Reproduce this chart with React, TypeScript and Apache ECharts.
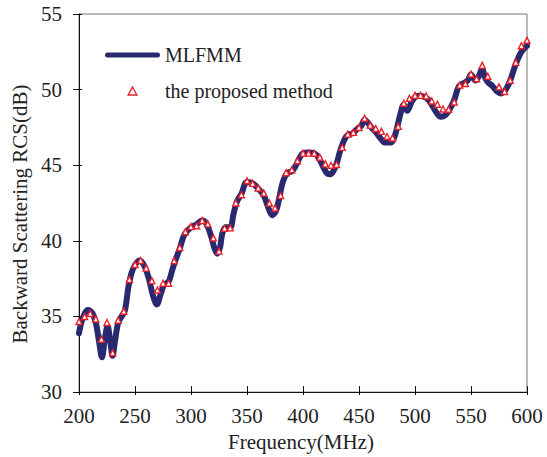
import React, { useEffect, useRef } from "react";
import * as echarts from "echarts";

// MLFMM curve: frequency (MHz) and RCS (dB)
const curveFreq = [
  200, 203, 208, 212, 215, 218, 220.5, 223, 225.5, 228, 230, 232, 235, 238, 241, 244, 247, 250, 254, 258,
  262, 266, 269.5, 273, 276, 280, 283, 286, 290, 294, 300, 305, 310, 314, 318, 321, 323.5, 326, 328, 331,
  335, 338, 341, 345, 350, 355, 360, 365, 369, 372.5, 376, 379, 382, 386, 390, 393, 397, 400, 405, 410,
  414, 418, 421, 424, 427, 430, 433, 437, 440, 444, 447, 450, 452, 455, 458, 461, 465, 469, 473, 477,
  480, 483, 487, 490, 493, 497, 500, 503, 507, 511, 515, 519, 523, 527, 531, 535, 539, 543, 547, 550,
  554, 557, 560, 562, 565, 569, 573, 577, 581, 585, 590, 595, 600,
];
const curveRcs = [
  33.9, 34.8, 35.43, 35.2, 34.6, 33.3, 32.3, 33.5, 34.35, 33.3, 32.4, 33.3, 34.6, 35.0, 35.4, 36.9, 37.9, 38.4, 38.7, 38.4,
  37.6, 36.4, 35.8, 36.5, 37.1, 37.3, 38.0, 38.7, 39.5, 40.4, 40.9, 41.1, 41.35, 41.1, 40.3, 39.5, 39.15, 39.6, 40.5, 40.9,
  40.9, 41.8, 42.6, 43.1, 43.9, 43.8, 43.45, 43.0, 42.2, 41.7, 42.0, 42.9, 43.9, 44.5, 44.6, 44.9, 45.5, 45.8, 45.85, 45.8,
  45.5, 44.9, 44.5, 44.4, 44.6, 45.1, 45.9, 46.7, 47.0, 47.1, 47.3, 47.5, 47.6, 48.0, 47.8, 47.5, 47.2, 46.8, 46.5, 46.5,
  46.6, 47.2, 48.4, 49.0, 48.6, 49.2, 49.5, 49.6, 49.55, 49.4, 49.0, 48.5, 48.2, 48.3, 48.7, 49.3, 50.2, 50.4, 50.6, 51.0,
  50.6, 50.9, 51.4, 50.9, 50.5, 50.25, 49.9, 49.75, 50.0, 50.6, 51.7, 52.5, 52.9,
];

// Proposed method samples
const methodFreq = [
  200, 205, 210, 215, 220, 225, 230, 235, 240, 245, 250, 255, 260, 265, 270, 275, 280, 285, 290, 295,
  300, 305, 310, 315, 320, 325, 330, 335, 340, 345, 350, 355, 360, 365, 370, 375, 380, 385, 390, 395,
  400, 405, 410, 415, 420, 425, 430, 435, 440, 445, 450, 455, 460, 465, 470, 475, 480, 485, 490, 495,
  500, 505, 510, 515, 520, 525, 530, 535, 540, 545, 550, 555, 560, 565, 575, 580, 585, 590, 595, 600,
];
const methodRcs = [
  34.67, 35.0, 35.2, 34.83, 33.5, 34.6, 32.6, 34.75, 35.35, 37.45, 38.44, 38.7, 38.2, 37.37, 36.75, 37.2, 37.2, 38.68, 39.56, 40.6,
  40.94, 41.0, 41.35, 41.12, 40.2, 39.32, 40.83, 40.86, 42.5, 43.05, 43.97, 43.8, 43.5, 43.16, 42.5, 42.17, 43.0, 44.5, 44.7, 45.3,
  45.79, 45.8, 45.79, 45.53, 45.09, 45.0, 45.05, 46.18, 47.06, 47.17, 47.5, 48.11, 47.65, 47.43, 47.24, 46.9, 46.8, 47.57, 49.1, 49.43,
  49.62, 49.62, 49.58, 49.25, 49.03, 48.72, 48.7, 49.18, 50.3, 50.4, 51.03, 50.72, 51.6, 50.88, 50.18, 49.88, 50.62, 51.8, 52.9, 53.26,
];

const seriesNames = ["MLFMM", "the proposed method"];
const xTitle = "Frequency(MHz)";
const yTitle = "Backward Scattering RCS(dB)";

const FONT = "Liberation Serif";
const NAVY = "#28296e";
const RED = "#e8202a";

export default function App() {
  const ref = useRef<HTMLDivElement>(null);
  useEffect(() => {
    if (!ref.current) return;
    const chart = echarts.init(ref.current, undefined, { renderer: "svg" });
    const textStyle = { fontFamily: FONT, color: "#222", fontSize: 21 };
    chart.setOption({
      animation: false,
      backgroundColor: "#fff",
      textStyle: { fontFamily: FONT },
      grid: {
        left: 79,
        right: 20,
        top: 14,
        bottom: 63,
        show: true,
        borderColor: "#777",
        borderWidth: 1,
      },
      legend: {
        orient: "vertical",
        left: 100,
        top: 40,
        itemWidth: 55,
        itemHeight: 8,
        itemGap: 16,
        symbolKeepAspect: true,
        textStyle: { ...textStyle, fontSize: 20 },
        data: [
          {
            name: seriesNames[0],
            icon: "path://M2.5,1.5 L52.5,1.5 A2.5,2.5 0 0 1 52.5,6.5 L2.5,6.5 A2.5,2.5 0 0 1 2.5,1.5 Z",
            itemStyle: { color: NAVY, borderWidth: 0 },
          },
          {
            name: seriesNames[1],
            icon: "path://M3,0 L6,5.5 L0,5.5 Z",
            itemStyle: { color: "#ffffff", borderColor: RED, borderWidth: 1.4 },
          },
        ],
      },
      xAxis: [
        {
          type: "value",
          min: 200,
          max: 600,
          interval: 50,
          name: xTitle,
          nameLocation: "middle",
          nameGap: 35,
          nameTextStyle: { ...textStyle, padding: [0, 4, 0, 0] },
          axisLine: { show: true, lineStyle: { color: "#111", width: 1 } },
          axisTick: { show: true, inside: true, length: 6, lineStyle: { color: "#111" } },
          axisLabel: { ...textStyle, margin: 13 },
          splitLine: { show: false },
        },
        {
          type: "value",
          position: "bottom",
          min: 200,
          max: 600,
          interval: 50,
          axisLine: { show: false },
          axisTick: { show: true, inside: false, length: 3, lineStyle: { color: "#111" } },
          axisLabel: { show: false },
          splitLine: { show: false },
        },
      ],
      yAxis: [
        {
          type: "value",
          min: 30,
          max: 55,
          interval: 5,
          name: yTitle,
          nameLocation: "middle",
          nameGap: 46,
          nameTextStyle: { ...textStyle, padding: [0, 22, 0, 0] },
          axisLine: { show: true, lineStyle: { color: "#111", width: 1 } },
          axisTick: { show: true, inside: false, length: 6, lineStyle: { color: "#111" } },
          axisLabel: { ...textStyle, margin: 17 },
          splitLine: { show: false },
        },
        {
          type: "value",
          position: "left",
          min: 30,
          max: 55,
          interval: 5,
          axisLine: { show: false },
          axisTick: { show: true, inside: true, length: 3, lineStyle: { color: "#111" } },
          axisLabel: { show: false },
          splitLine: { show: false },
        },
      ],
      series: [
        {
          name: seriesNames[0],
          type: "line",
          smooth: 0.35,
          showSymbol: false,
          symbol: "none",
          lineStyle: { color: NAVY, width: 6, cap: "round", join: "round" },
          itemStyle: { color: NAVY },
          data: curveFreq.map((f, i) => [f, curveRcs[i]]),
          z: 2,
        },
        {
          name: seriesNames[1],
          type: "scatter",
          symbol: "triangle",
          symbolSize: 6,
          itemStyle: { color: "#ffffff", borderColor: RED, borderWidth: 1.4, opacity: 1 },
          data: methodFreq.map((f, i) => [f, methodRcs[i]]),
          z: 3,
        },
      ],
    });
    return () => chart.dispose();
  }, []);
  return (
    <div
      ref={ref}
      style={{ position: "fixed", left: 0, top: 0, width: 547, height: 457, background: "#fff" }}
    />
  );
}
